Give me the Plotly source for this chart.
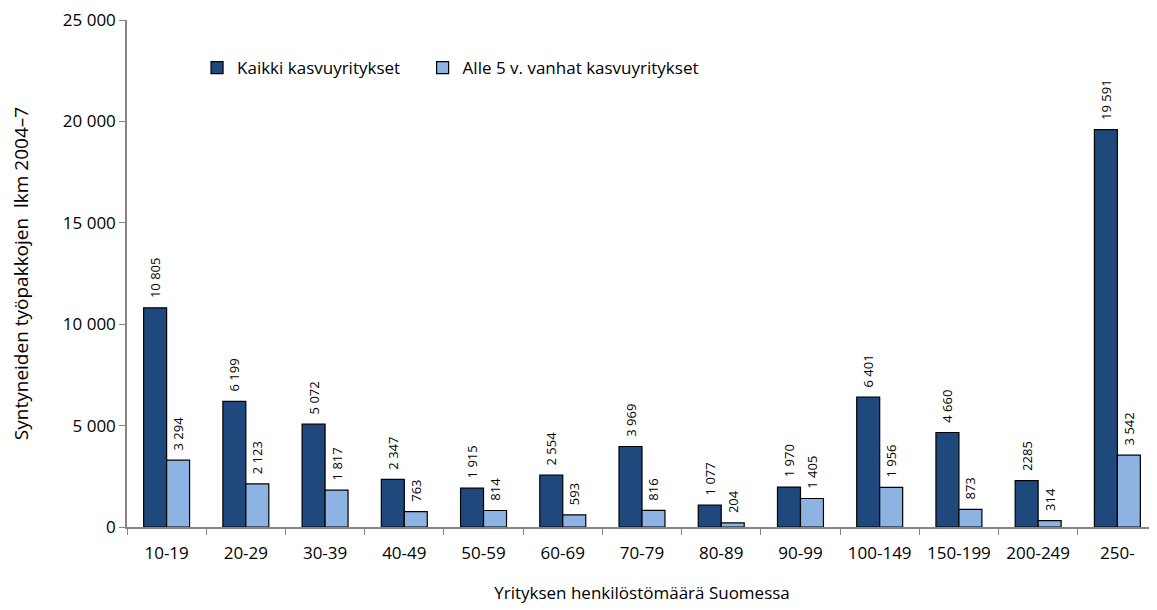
import plotly.graph_objects as go

categories = ["10-19", "20-29", "30-39", "40-49", "50-59", "60-69", "70-79",
              "80-89", "90-99", "100-149", "150-199", "200-249", "250-"]
kaikki = [10805, 6199, 5072, 2347, 1915, 2554, 3969, 1077, 1970, 6401, 4660, 2285, 19591]
alle5 = [3294, 2123, 1817, 763, 814, 593, 816, 204, 1405, 1956, 873, 314, 3542]
kaikki_labels = ["10 805", "6 199", "5 072", "2 347", "1 915", "2 554", "3 969",
                 "1 077", "1 970", "6 401", "4 660", "2285", "19 591"]
alle5_labels = ["3 294", "2 123", "1 817", "763", "814", "593", "816",
                "204", "1 405", "1 956", "873", "314", "3 542"]

FONT = "'Open Sans', sans-serif"
PAD = "\u00a0\u00a0"  # small gap between bar top and rotated label

fig = go.Figure()
fig.add_trace(go.Bar(
    x=categories, y=kaikki, name="Kaikki kasvuyritykset",
    marker=dict(color="#1f497d", line=dict(color="#000000", width=1.2)),
    text=[PAD + t for t in kaikki_labels], textposition="outside", textangle=-90,
    textfont=dict(size=13, color="#000000"), cliponaxis=False,
    legend="legend",
))
fig.add_trace(go.Bar(
    x=categories, y=alle5, name="Alle 5 v. vanhat kasvuyritykset",
    marker=dict(color="#8db3e2", line=dict(color="#000000", width=1.2)),
    text=[PAD + t for t in alle5_labels], textposition="outside", textangle=-90,
    textfont=dict(size=13, color="#000000"), cliponaxis=False,
    legend="legend2",
))

leg = dict(orientation="h", y=0.905, xanchor="left", yanchor="middle",
           font=dict(size=17), itemwidth=30, bgcolor="rgba(0,0,0,0)")

# page body adds an 8px offset, so the figure is a bit smaller than the window
fig.update_layout(
    width=1149, height=602,
    margin=dict(l=119, r=0, t=12, b=83),
    paper_bgcolor="white", plot_bgcolor="white",
    font=dict(family=FONT, size=17, color="#000000"),
    separators=", ",
    barmode="group", bargap=0.42, bargroupgap=0,
    showlegend=True,
    legend=dict(leg, x=0.068),
    legend2=dict(leg, x=0.287),
    uniformtext=dict(mode="show", minsize=13),
)
fig.update_xaxes(
    showline=True, linecolor="#868686", linewidth=1.5,
    ticks="outside", tickson="boundaries", ticklen=6, tickcolor="#868686",
    ticklabelstandoff=10,
    title=dict(text="Yrityksen henkilöstömäärä Suomessa", font=dict(size=17), standoff=24),
    tickfont=dict(size=17),
)
fig.update_yaxes(
    range=[0, 25000], dtick=5000, tickformat=",d",
    showline=True, linecolor="#868686", linewidth=1.5,
    ticks="outside", ticklen=6, tickcolor="#868686",
    ticklabeloverflow="allow",
    showgrid=False, zeroline=False,
    title=dict(text="Syntyneiden työpakkojen\u00a0\u00a0lkm 2004–7", font=dict(size=19), standoff=32),
    tickfont=dict(size=17),
)

fig.write_html("out.html")
